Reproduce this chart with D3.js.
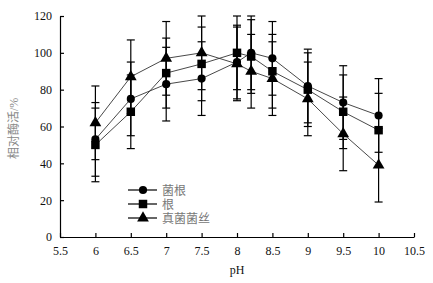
<!DOCTYPE html>
<html>
<head>
<meta charset="utf-8">
<script src="https://cdn.jsdelivr.net/npm/d3@7"></script>
<style>
body { margin: 0; background: #fff; }
svg text { font-family: "Liberation Serif", "DejaVu Serif", serif; }
</style>
</head>
<body>
<div id="chart"></div>
<script>
// data
var phValues = [6, 6.5, 7, 7.5, 8, 8.2, 8.5, 9, 9.5, 10];
var seriesNames = ["菌根", "根", "真菌菌丝"];
var mycorrhiza = [53, 75, 83, 86, 95, 100, 97, 82, 73, 66];
var mycorrhizaErr = [20, 20, 20, 20, 20, 20, 20, 20, 20, 20];
var roots = [50, 68, 89, 94, 100, 98, 90, 80, 68, 58];
var rootsErr = [20, 20, 19, 20, 20, 20, 20, 20, 20, 20];
var hyphae = [62, 87, 97, 100, 94, 90, 86, 75, 56, 39];
var hyphaeErr = [20, 20, 20, 20, 20, 20, 20, 20, 20, 20];
var xTicks = [5.5, 6, 6.5, 7, 7.5, 8, 8.5, 9, 9.5, 10, 10.5];
var yTicks = [0, 20, 40, 60, 80, 100, 120];

var width = 433, height = 283;
var margin = {top: 16, right: 19, bottom: 46, left: 60};

var svg = d3.select("#chart")
	.append("svg")
	.attr("width", width)
	.attr("height", height);

var xScale = d3.scaleLinear()
	.domain([5.5, 10.5])
	.range([margin.left, width - margin.right]);

var yScale = d3.scaleLinear()
	.domain([0, 120])
	.range([height - margin.bottom, margin.top]);

var series = [
	{name: seriesNames[0], values: mycorrhiza, err: mycorrhizaErr, symbol: d3.symbolCircle, size: 52},
	{name: seriesNames[1], values: roots, err: rootsErr, symbol: d3.symbolSquare, size: 72},
	{name: seriesNames[2], values: hyphae, err: hyphaeErr, symbol: d3.symbolTriangle, size: 60}
];

// axes, ticks point inward
var xAxis = svg.append("g")
	.attr("transform", "translate(0," + yScale(0) + ")")
	.call(d3.axisBottom(xScale).tickValues(xTicks).tickSize(-4).tickSizeOuter(0).tickPadding(9).tickFormat(d3.format("")));
var yAxis = svg.append("g")
	.attr("transform", "translate(" + xScale(5.5) + ",0)")
	.call(d3.axisLeft(yScale).tickValues(yTicks).tickSize(-4).tickSizeOuter(0).tickPadding(8));

[xAxis, yAxis].forEach(function(ax) {
	ax.selectAll("path, line").attr("stroke", "#000").attr("stroke-width", 1.2);
	ax.selectAll("text").style("font-size", "12px").attr("fill", "#111");
});

// error bars
series.forEach(function(s) {
	var g = svg.append("g").attr("stroke", "#000").attr("stroke-width", 1.2);
	phValues.forEach(function(p, i) {
		var x = xScale(p), hi = yScale(s.values[i] + s.err[i]), lo = yScale(s.values[i] - s.err[i]);
		g.append("line").attr("x1", x).attr("x2", x).attr("y1", hi).attr("y2", lo);
		g.append("line").attr("x1", x - 4).attr("x2", x + 4).attr("y1", hi).attr("y2", hi);
		g.append("line").attr("x1", x - 4).attr("x2", x + 4).attr("y1", lo).attr("y2", lo);
	});
});

// connecting lines
var line = d3.line()
	.x(function(d) { return xScale(d[0]); })
	.y(function(d) { return yScale(d[1]); });

series.forEach(function(s) {
	svg.append("path")
		.datum(phValues.map(function(p, i) { return [p, s.values[i]]; }))
		.attr("d", line)
		.attr("fill", "none")
		.attr("stroke", "#333")
		.attr("stroke-width", 0.9);
});

// markers
series.forEach(function(s) {
	svg.append("g").selectAll("path")
		.data(phValues.map(function(p, i) { return [p, s.values[i]]; }))
		.enter()
		.append("path")
		.attr("d", d3.symbol().type(s.symbol).size(s.size))
		.attr("transform", function(d) { return "translate(" + xScale(d[0]) + "," + yScale(d[1]) + ")"; })
		.attr("fill", "#000");
});

// legend
var legend = svg.append("g");
series.forEach(function(s, i) {
	var y = 190 + i * 14;
	legend.append("line")
		.attr("x1", 128).attr("x2", 157)
		.attr("y1", y).attr("y2", y)
		.attr("stroke", "#000").attr("stroke-width", 1.2);
	legend.append("path")
		.attr("d", d3.symbol().type(s.symbol).size(s.size))
		.attr("transform", "translate(143," + y + ")")
		.attr("fill", "#000");
	legend.append("text")
		.attr("x", 162).attr("y", y)
		.attr("dy", "0.38em")
		.style("font-family", "'Liberation Serif', 'Noto Sans CJK SC', serif")
		.style("font-size", "12px")
		.attr("fill", "#777")
		.text(s.name);
});

// axis titles
svg.append("text")
	.attr("x", xScale(8))
	.attr("y", 274)
	.attr("text-anchor", "middle")
	.style("font-size", "12px")
	.attr("fill", "#111")
	.text("pH");

svg.append("text")
	.attr("transform", "translate(18," + yScale(59) + ") rotate(-90)")
	.attr("text-anchor", "middle")
	.style("font-family", "'Liberation Serif', 'Noto Sans CJK SC', serif")
	.style("font-size", "12px")
	.attr("fill", "#888")
	.text("相对酶活/%");
</script>
</body>
</html>
